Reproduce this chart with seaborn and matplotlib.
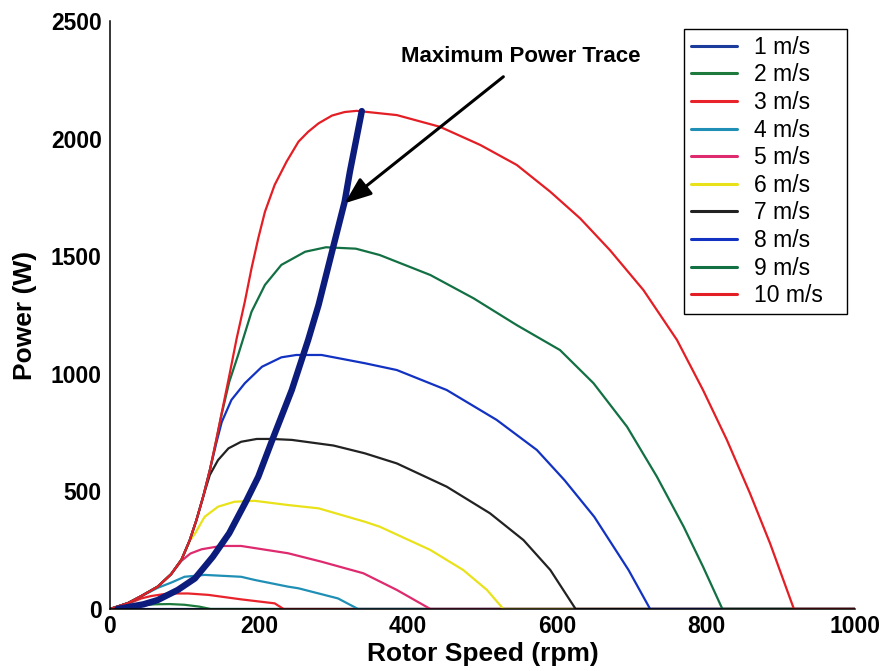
import numpy as np
import pandas as pd
import matplotlib
matplotlib.use("Agg")
import matplotlib.pyplot as plt
import seaborn as sns

# ---------------- data ----------------
speed_labels = ["1 m/s", "2 m/s", "3 m/s", "4 m/s", "5 m/s",
                "6 m/s", "7 m/s", "8 m/s", "9 m/s", "10 m/s"]

rpm_1 = [0, 15, 30, 40, 47, 1000]
power_1 = [0, 1.5, 2, 1, 0, 0]

rpm_2 = [0, 30, 60, 80, 100, 120, 135, 1000]
power_2 = [0, 12, 20, 21, 18, 10, 0, 0]

rpm_3 = [0, 24, 42, 55, 78, 105, 132, 176, 221, 233, 1000]
power_3 = [0, 22, 45, 55, 66, 66, 60, 41, 24, 0, 0]

rpm_4 = [0, 24, 42, 64, 82, 100, 127, 176, 195, 239, 253, 306, 333, 1000]
power_4 = [0, 24, 54, 90, 112, 137, 145, 137, 123, 95, 88, 45, 0, 0]

rpm_5 = [0, 24, 42, 64, 82, 96, 108, 123, 149, 176, 239, 284, 340, 385, 430, 1000]
power_5 = [0, 25, 55, 95, 148, 205, 236, 254, 268, 268, 237, 201, 152, 81, 0, 0]

rpm_6 = [0, 24, 42, 64, 82, 96, 107, 114, 127, 145, 167, 194, 239, 280, 342, 362, 430, 474, 506, 528, 1000]
power_6 = [0, 25, 55, 95, 148, 210, 290, 320, 392, 435, 456, 460, 442, 428, 371, 350, 251, 166, 81, 0, 0]

rpm_7 = [0, 24, 42, 64, 82, 96, 107, 116, 125, 134, 145, 159, 176, 197, 217, 244, 300, 342, 385, 452, 510, 555, 591, 625, 1000]
power_7 = [0, 25, 55, 95, 148, 210, 292, 378, 477, 570, 633, 683, 711, 723, 723, 719, 695, 662, 619, 520, 407, 293, 166, 0, 0]

rpm_8 = [0, 24, 42, 64, 82, 96, 107, 116, 125, 134, 143, 150, 163, 181, 204, 230, 250, 284, 342, 385, 452, 519, 573, 610, 650, 696, 725, 1000]
power_8 = [0, 25, 55, 95, 148, 210, 292, 378, 477, 590, 710, 795, 889, 960, 1030, 1070, 1080, 1080, 1045, 1016, 931, 804, 676, 548, 392, 166, 0, 0]

rpm_9 = [0, 24, 42, 64, 82, 96, 107, 116, 125, 134, 143, 150, 160, 172, 190, 208, 230, 262, 290, 330, 362, 430, 488, 546, 604, 649, 694, 734, 770, 796, 822, 1000]
power_9 = [0, 25, 55, 95, 148, 210, 292, 378, 477, 590, 722, 830, 965, 1080, 1264, 1378, 1463, 1519, 1538, 1532, 1505, 1420, 1321, 1207, 1101, 960, 775, 563, 350, 180, 0, 0]

rpm_10 = [0, 24, 42, 64, 82, 96, 107, 116, 125, 134, 143, 150, 160, 170, 181, 190, 199, 208, 221, 237, 253, 266, 280, 298, 315, 331,
          385, 443, 497, 546, 591, 631, 671, 716, 761, 796, 828, 859, 886, 918, 1000]
power_10 = [0, 25, 55, 95, 148, 210, 292, 378, 477, 590, 725, 835, 990, 1150, 1307, 1449, 1576, 1689, 1803, 1902, 1987, 2029, 2065, 2098, 2113, 2118,
            2100, 2050, 1973, 1888, 1774, 1661, 1526, 1356, 1144, 931, 719, 492, 279, 0, 0]

trace_rpm = [10, 24, 45, 64, 91, 114, 138, 160, 183, 199, 217, 244, 266, 280, 298, 315, 322, 338]
trace_power = [0, 8, 20, 38, 81, 130, 222, 322, 460, 562, 712, 931, 1144, 1293, 1519, 1732, 1859, 2117]

x_ticks = [0, 200, 400, 600, 800, 1000]
y_ticks = [0, 500, 1000, 1500, 2000, 2500]

line_colors = ["#1c3c9c", "#1e7a3c", "#e8232b", "#1f8fb5", "#de2a6e",
               "#e9e21a", "#222222", "#1232c2", "#127043", "#e31e24"]
trace_color = "#0c1c7c"

# ---------------- build long-form table ----------------
rpm_series = [rpm_1, rpm_2, rpm_3, rpm_4, rpm_5, rpm_6, rpm_7, rpm_8, rpm_9, rpm_10]
power_series = [power_1, power_2, power_3, power_4, power_5, power_6, power_7, power_8, power_9, power_10]
frames = []
for lab, r, p in zip(speed_labels, rpm_series, power_series):
    frames.append(pd.DataFrame({"rpm": r, "power": p, "speed": lab}))
df = pd.concat(frames, ignore_index=True)
trace_df = pd.DataFrame({"rpm": trace_rpm, "power": trace_power})

# ---------------- style ----------------
sns.set_theme(style="white")
plt.rcParams["font.family"] = ["Liberation Sans", "DejaVu Sans"]
plt.rcParams["text.color"] = "black"
plt.rcParams["axes.labelcolor"] = "black"
plt.rcParams["xtick.color"] = "black"
plt.rcParams["ytick.color"] = "black"

fig, ax = plt.subplots(figsize=(8.84, 6.71), dpi=100)
fig.subplots_adjust(left=110 / 884, right=855 / 884, bottom=1 - 609 / 671, top=1 - 21 / 671)

sns.lineplot(data=df, x="rpm", y="power", hue="speed", hue_order=speed_labels,
             palette=line_colors, sort=False, estimator=None, linewidth=1.6, ax=ax)
handles, labels = ax.get_legend_handles_labels()
if ax.get_legend() is not None:
    ax.get_legend().remove()
for ln in ax.get_lines():
    ln.set_solid_joinstyle("round")

sns.lineplot(data=trace_df, x="rpm", y="power", color=trace_color, sort=False,
             estimator=None, linewidth=4.6, ax=ax, legend=False)

ax.set_xlim(0, 1000)
ax.set_ylim(0, 2500)
ax.set_xticks(x_ticks)
ax.set_yticks(y_ticks)
ax.set_xticklabels([str(t) for t in x_ticks], fontweight="bold")
ax.set_yticklabels([str(t) for t in y_ticks], fontweight="bold")
ax.tick_params(direction="in", length=5, width=1, labelsize=16.5, colors="black")
ax.tick_params(axis="x", pad=4)
ax.tick_params(axis="y", pad=6)
for s in ["top", "right"]:
    ax.spines[s].set_visible(False)
for s in ["left", "bottom"]:
    ax.spines[s].set_color("black")
    ax.spines[s].set_linewidth(1.1)

ax.set_xlabel("Rotor Speed (rpm)", fontsize=19, fontweight="bold", labelpad=3)
ax.set_ylabel("Power (W)", fontsize=19, fontweight="bold", labelpad=10)

leg = ax.legend(handles, labels, loc="upper left",
                bbox_to_anchor=(0.7705, 0.5, 0.2188, 0.4864), mode="expand",
                fontsize=16.5, frameon=True,
                fancybox=False, edgecolor="black", framealpha=1,
                handlelength=2.0, handletextpad=0.75, labelspacing=0.2,
                borderpad=0.3, borderaxespad=0.0)
leg.get_frame().set_linewidth(1.0)
for h in leg.get_lines():
    h.set_linewidth(2.2)

ax.text(551, 2347, "Maximum Power Trace", ha="center", va="center",
        fontsize=16, fontweight="bold")
ax.annotate("", xy=(315, 1725), xytext=(528, 2263),
            arrowprops=dict(arrowstyle="-|>,head_length=0.9,head_width=0.35",
                            color="black", lw=2.2, mutation_scale=18,
                            shrinkA=0, shrinkB=0))

fig.savefig("out.png", dpi=100)
